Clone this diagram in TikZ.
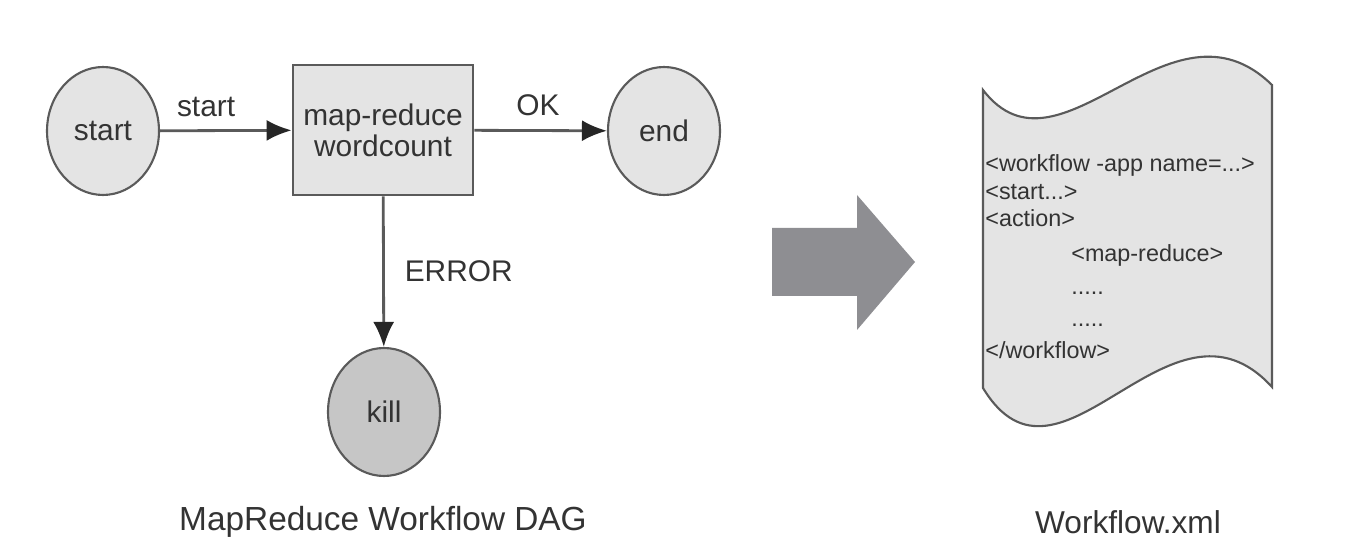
\documentclass[tikz,border=0pt]{standalone}
\usepackage{fontspec}
\setmainfont{Liberation Sans}
\usetikzlibrary{shapes.geometric,arrows.meta}
\definecolor{nodefill}{HTML}{E4E4E4}
\definecolor{killfill}{HTML}{C6C6C6}
\definecolor{edgegray}{HTML}{5A5A5A}
\definecolor{bigarrow}{HTML}{8E8E92}
\tikzset{
	state/.style={ellipse, draw=edgegray, line width=1.2pt, fill=nodefill, minimum width=2.24cm, minimum height=2.56cm, font=\fontsize{17}{19}\selectfont, text=black!80},
	action/.style={rectangle, draw=edgegray, line width=1.6pt, fill=nodefill, minimum width=3.6cm, minimum height=2.6cm, align=center, font=\fontsize{17}{17.5}\selectfont, text=black!80},
	flow/.style={draw=edgegray, line width=1.6pt, -{Latex[length=0.5cm,width=0.42cm,color=black!85]}},
	lbl/.style={font=\fontsize{17}{19}\selectfont, text=black!80},
	xmlline/.style={anchor=west, font=\fontsize{13.3}{15}\selectfont, text=black!80, inner sep=0pt}
}
\begin{document}
\begin{tikzpicture}[x=0.02cm,y=-0.02cm]
	\useasboundingbox (0,0) rectangle (1370,543);
	% DAG
	\node[state] (start) at (103,131) {start};
	\node[action] (mr) at (383,130) {map-reduce\\wordcount};
	\node[state] (end) at (664,131) {end};
	\node[state, fill=killfill] (kill) at (384,412) {kill};
	\draw[flow] (start)--(mr) node[lbl, above, pos=.35, yshift=4pt] {start};
	\draw[flow] (mr)--(end) node[lbl, above, pos=.48, yshift=4pt] {OK};
	\draw[flow] (mr)--(kill) node[lbl, right, pos=.5, xshift=8pt] {ERROR};
	\node[lbl, font=\fontsize{19}{21}\selectfont] (cap1) at (383,522) {MapReduce Workflow DAG};
	% block arrow
	\fill[bigarrow] (772,228)--(857,228)--(857,195)--(915,262)--(857,330)--(857,296)--(772,296)--cycle;
	% workflow file
	\draw[edgegray, line width=1.2pt, fill=nodefill] (983,90) .. controls (1060,190) and (1170,-15) .. (1272,85)
		-- (1272,387) .. controls (1170,275) and (1060,515) .. (983,388) -- cycle;
	\foreach \name/\x/\y/\txt in {l1/985/165/{<workflow -app name=...>}, l2/985/192/{<start...>}, l3/985/218/{<action>},
		l4/1071/255/{<map-reduce>}, l5/1071/293/{.....}, l6/1071/325/{.....}, l7/985/350/{</workflow>}}
		\node[xmlline] (\name) at (\x,\y) {\txt};
	\node[lbl, font=\fontsize{18}{20}\selectfont] (cap2) at (1128,522) {Workflow.xml};
\end{tikzpicture}
\end{document}
